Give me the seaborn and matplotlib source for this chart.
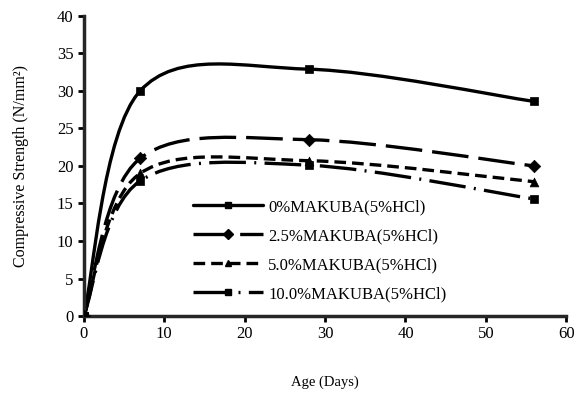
import numpy as np
import matplotlib
matplotlib.use("Agg")
import matplotlib.pyplot as plt
from matplotlib.path import Path
from matplotlib.patches import PathPatch
from matplotlib.lines import Line2D
import seaborn as sns
import pandas as pd

# data
days = [0, 7, 28, 56]
s0 = [0, 30.0, 32.9, 28.6]
s25 = [0, 21.0, 23.5, 20.0]
s50 = [0, 19.0, 20.7, 17.9]
s100 = [0, 18.0, 20.1, 15.6]
labels = ["0%MAKUBA(5%HCl)", "2.5%MAKUBA(5%HCl)", "5.0%MAKUBA(5%HCl)", "10.0%MAKUBA(5%HCl)"]
markers = ["s", "D", "^", "s"]
dashes = ["-", (0, (11, 3)), (0, (3.5, 1.8)), (0, (11, 2.5, 0.6, 2.5))]

sns.set_style("ticks")
plt.rcParams["font.family"] = ["Liberation Serif", "DejaVu Serif"]
plt.rcParams["text.color"] = "black"
plt.rcParams["axes.labelcolor"] = "black"
plt.rcParams["xtick.color"] = "black"
plt.rcParams["ytick.color"] = "black"


def smooth_path(x, y):
    # excel-like smoothed line as cubic bezier segments through the points
    pts = np.column_stack([x, y]).astype(float)
    n = len(pts)
    verts = [pts[0]]
    codes = [Path.MOVETO]
    for i in range(n - 1):
        p0 = pts[max(i - 1, 0)]
        p1 = pts[i]
        p2 = pts[i + 1]
        p3 = pts[min(i + 2, n - 1)]
        c1 = p1 + (p2 - p0) / 6
        c2 = p2 - (p3 - p1) / 6
        verts += [c1, c2, p2]
        codes += [Path.CURVE4] * 3
    return Path(verts, codes)


fig = plt.figure(figsize=(5.82, 3.98), dpi=100)
ax = fig.add_axes([0.144, 0.206, 0.829, 0.754])

lw = 2.4
handles = []
for vals, lab, mk, ds in zip([s0, s25, s50, s100], labels, markers, dashes):
    patch = PathPatch(smooth_path(days, vals), facecolor="none", edgecolor="black",
                      lw=lw, linestyle=ds, capstyle="butt")
    ax.add_patch(patch)
    df = pd.DataFrame({"day": days, "val": vals})
    sns.scatterplot(data=df, x="day", y="val", marker=mk, color="black",
                    s=40, edgecolor="black", linewidth=0.5, ax=ax, zorder=3)
    handles.append(Line2D([], [], color="black", lw=lw, linestyle=ds,
                          marker=mk, markersize=5))

sns.despine(ax=ax)
ax.set_xlim(0, 60)
ax.set_ylim(0, 40)
ax.set_xticks(range(0, 61, 10))
ax.set_yticks(range(0, 41, 5))
ax.tick_params(axis="both", labelsize=12, width=2, length=4, direction="out")
for side in ["left", "bottom"]:
    ax.spines[side].set_linewidth(2.5)
ax.set_xlabel("Age (Days)", fontsize=10.5, labelpad=24)
ax.set_ylabel("Compressive Strength (N/mm²)", fontsize=11.5, labelpad=20)

ax.legend(handles=handles, labels=labels, loc="upper left",
          bbox_to_anchor=(193 / 582, 1 - 199 / 398), bbox_transform=fig.transFigure,
          borderaxespad=0, borderpad=0, frameon=False, fontsize=12,
          handlelength=4.2, handletextpad=0.3, labelspacing=0.78)

fig.savefig("out.png", dpi=100)
